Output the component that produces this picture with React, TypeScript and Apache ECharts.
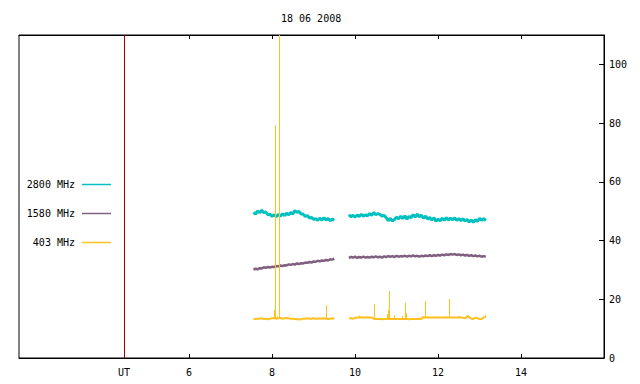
import React, { useEffect, useRef } from "react";
import * as echarts from "echarts";

const TITLE = "18 06 2008";
const FONT = "DejaVu Sans Mono";

// time grid (UT hours) for the two observing segments
const SEG1_START = 7.55;
const SEG2_START = 9.85;
const STEP = 0.05;

const xTickValues = [6, 8, 10, 12, 14];
const UT_POS = 4.43;
const xLabelValues = [UT_POS, 6, 8, 10, 12, 14];
const yTickValues = [20, 40, 60, 80, 100];
const yLabelValues = [0, 20, 40, 60, 80, 100];

const names = ["2800 MHz", "1580 MHz", "403 MHz"];
const colors = ["#00c0c0", "#806080", "#ffc020"];

const f2800seg1 = [49.6, 49.0, 50.0, 49.5, 50.3, 49.5, 49.7, 48.8, 49.0, 48.2, 48.8, 48.1, 48.9, 48.3, 49.1, 48.5, 49.3, 48.8, 49.5, 49.1, 50.2, 49.6, 49.9, 49.0, 49.0, 48.2, 48.5, 47.7, 47.9, 47.2, 47.5, 46.9, 47.6, 47.0, 47.7, 47.0, 47.5, 46.8, 47.3, 46.9];
const f2800seg2 = [48.8, 48.1, 48.6, 48.0, 48.7, 48.2, 48.9, 48.3, 48.8, 48.4, 49.2, 48.6, 49.5, 48.8, 49.2, 48.9, 48.3, 48.6, 47.8, 46.8, 47.5, 46.6, 47.2, 47.9, 47.4, 48.3, 47.5, 48.4, 47.3, 48.2, 47.8, 48.8, 48.0, 49.0, 48.1, 48.6, 47.6, 48.3, 47.3, 47.9, 47.0, 47.7, 46.6, 47.3, 46.7, 47.6, 46.9, 47.8, 47.0, 47.6, 47.1, 47.7, 46.9, 47.5, 46.8, 47.4, 46.7, 47.2, 46.3, 47.0, 46.2, 47.1, 46.5, 47.6, 46.9, 47.5, 46.8];

const f1580seg1 = [30.1, 30.4, 30.2, 30.6, 30.5, 30.9, 30.7, 31.0, 30.8, 31.1, 31.0, 31.3, 31.2, 31.5, 31.3, 31.6, 31.5, 31.9, 31.7, 32.0, 31.8, 32.2, 32.0, 32.3, 32.2, 32.5, 32.4, 32.7, 32.5, 32.9, 32.8, 33.1, 32.9, 33.2, 33.1, 33.4, 33.2, 33.6, 33.5, 33.8];
const f1580seg2 = [34.1, 34.4, 34.2, 34.5, 34.1, 34.4, 34.2, 34.5, 34.2, 34.4, 34.2, 34.5, 34.3, 34.6, 34.3, 34.5, 34.2, 34.6, 34.4, 34.7, 34.5, 34.7, 34.4, 34.8, 34.5, 34.7, 34.6, 34.8, 34.5, 34.8, 34.6, 34.9, 34.6, 34.8, 34.5, 34.8, 34.6, 34.9, 34.7, 35.0, 34.7, 35.0, 34.8, 35.1, 34.9, 35.2, 35.0, 35.3, 35.1, 35.4, 35.2, 35.4, 35.1, 35.3, 35.0, 35.2, 34.9, 35.1, 34.8, 35.0, 34.7, 34.9, 34.6, 34.8, 34.5, 34.7, 34.5];

const f403seg1 = [13.4, 13.3, 13.4, 13.4, 13.5, 13.3, 13.4, 13.2, 13.4, 13.5, 13.6, 13.4, 13.5, 13.6, 13.4, 13.5, 13.6, 13.5, 13.4, 13.4, 13.3, 13.2, 13.1, 13.2, 13.4, 13.4, 13.5, 13.4, 13.4, 13.5, 13.4, 13.4, 13.5, 13.4, 13.5, 13.4, 13.3, 13.4, 13.5, 13.4];
const f403seg2 = [13.5, 13.5, 13.4, 13.6, 13.8, 13.8, 13.9, 13.8, 13.8, 13.9, 13.8, 13.8, 13.4, 13.3, 13.3, 13.3, 13.2, 13.3, 13.3, 13.4, 13.3, 13.4, 13.3, 13.3, 13.3, 13.3, 13.3, 13.3, 13.3, 13.2, 13.3, 13.3, 13.3, 13.3, 13.4, 13.3, 13.9, 13.8, 13.9, 13.8, 13.8, 13.8, 13.8, 13.8, 13.8, 13.8, 13.8, 13.9, 13.8, 13.8, 13.8, 13.8, 13.8, 13.9, 13.8, 13.7, 13.5, 14.2, 13.9, 13.4, 13.3, 13.7, 13.6, 13.2, 13.3, 13.8, 14.0];

// short bursts of the 403 MHz channel: [UT hour, peak value]
const spikes403seg1 = [[8.058, 16.3], [8.072, 79.3], [8.12, 14.2], [8.169, 110], [9.303, 18.0]];
const spikes403seg2 = [[10.105, 14.5], [10.458, 18.4], [10.77, 14.9], [10.795, 16.3], [10.82, 22.8], [10.94, 14.6], [11.13, 14.3], [11.205, 18.8], [11.23, 15.2], [11.61, 14.3], [11.687, 19.4], [12.265, 20.1], [12.72, 14.6], [13.13, 14.6]];

function toPairs(start: number, values: number[]): number[][] {
  return values.map((v, i) => [+(start + i * STEP).toFixed(3), v]);
}
function spikeSegments(start: number, base: number[], spikes: number[][]) {
  return spikes.map(([x, p]) => {
    const idx = Math.max(0, Math.min(base.length - 1, Math.floor((x - start) / STEP + 1e-6)));
    return [{ coord: [x, base[idx]] }, { coord: [x, p] }];
  });
}

export default function App() {
  const ref = useRef<HTMLDivElement>(null);
  useEffect(() => {
    if (!ref.current) return;
    const chart = echarts.init(ref.current, null, { renderer: "svg" });
    const lineSeries = (name: string, color: string, data: number[][], width: number, extra: any = {}) => ({
      type: "line",
      name,
      data,
      showSymbol: false,
      symbol: "none",
      lineStyle: { color, width },
      itemStyle: { color },
      clip: true,
      silent: true,
      ...extra,
    });
    const spikeMark = (segs: any[]) => ({
      markLine: {
        silent: true,
        symbol: ["none", "none"],
        label: { show: false },
        lineStyle: { color: colors[2], width: 1, type: "solid" },
        emphasis: { disabled: true },
        data: segs,
      },
    });
    const legendY = [184.5, 213.5, 242.5];
    const graphic: any[] = [];
    names.forEach((n, i) => {
      graphic.push({
        type: "text",
        style: {
          text: n,
          x: 75,
          y: legendY[i],
          textAlign: "right",
          textVerticalAlign: "middle",
          font: `10px "${FONT}"`,
          fill: "#000",
        },
      });
      graphic.push({
        type: "line",
        shape: { x1: 82, y1: legendY[i], x2: 111, y2: legendY[i] },
        style: { stroke: colors[i], lineWidth: 1.5 },
      });
    });
    const option: any = {
      animation: false,
      textStyle: { fontFamily: FONT, fontSize: 10, color: "#000" },
      title: {
        text: TITLE,
        left: 276,
        top: 8,
        textStyle: { fontFamily: FONT, fontSize: 10, fontWeight: "normal", color: "#000" },
      },
      grid: { left: 19, right: 36, top: 35, bottom: 26, show: true, borderColor: "#000", borderWidth: 1 },
      xAxis: [
        {
          type: "value",
          min: 1.9,
          max: 16,
          position: "bottom",
          axisLine: { show: true, lineStyle: { color: "#000", width: 1 } },
          axisTick: { show: true, inside: true, length: 4, customValues: xTickValues, lineStyle: { color: "#000" } },
          axisLabel: {
            customValues: xLabelValues,
            margin: 9,
            color: "#000",
            fontFamily: FONT,
            fontSize: 10,
            formatter: (v: number) => (Math.abs(v - UT_POS) < 0.01 ? "UT" : String(v)),
          },
          splitLine: { show: false },
        },
        {
          type: "value",
          min: 1.9,
          max: 16,
          position: "top",
          axisLine: { show: true, lineStyle: { color: "#000", width: 1 } },
          axisTick: { show: true, inside: true, length: 4, customValues: xTickValues, lineStyle: { color: "#000" } },
          axisLabel: { show: false },
          splitLine: { show: false },
        },
      ],
      yAxis: {
        type: "value",
        min: 0,
        max: 110,
        position: "right",
        axisLine: { show: true, lineStyle: { color: "#000", width: 1 } },
        axisTick: { show: true, inside: true, length: 5, customValues: yTickValues, lineStyle: { color: "#000" } },
        axisLabel: { customValues: yLabelValues, margin: 5, color: "#000", fontFamily: FONT, fontSize: 10 },
        splitLine: { show: false },
      },
      graphic,
      series: [
        lineSeries(names[0], colors[0], toPairs(SEG1_START, f2800seg1), 3, {
          markLine: {
            silent: true,
            symbol: ["none", "none"],
            label: { show: false },
            lineStyle: { color: "#a00000", width: 1, type: "solid" },
            emphasis: { disabled: true },
            data: [{ xAxis: UT_POS }],
          },
        }),
        lineSeries(names[0], colors[0], toPairs(SEG2_START, f2800seg2), 3),
        lineSeries(names[1], colors[1], toPairs(SEG1_START, f1580seg1), 2.5),
        lineSeries(names[1], colors[1], toPairs(SEG2_START, f1580seg2), 2.5),
        lineSeries(names[2], colors[2], toPairs(SEG1_START, f403seg1), 2,
          spikeMark(spikeSegments(SEG1_START, f403seg1, spikes403seg1))),
        lineSeries(names[2], colors[2], toPairs(SEG2_START, f403seg2), 2,
          spikeMark(spikeSegments(SEG2_START, f403seg2, spikes403seg2))),
      ],
    };
    chart.setOption(option);
    return () => chart.dispose();
  }, []);
  return (
    <div
      ref={ref}
      style={{ position: "fixed", left: 0, top: 0, width: 640, height: 384, background: "#fff" }}
    />
  );
}
